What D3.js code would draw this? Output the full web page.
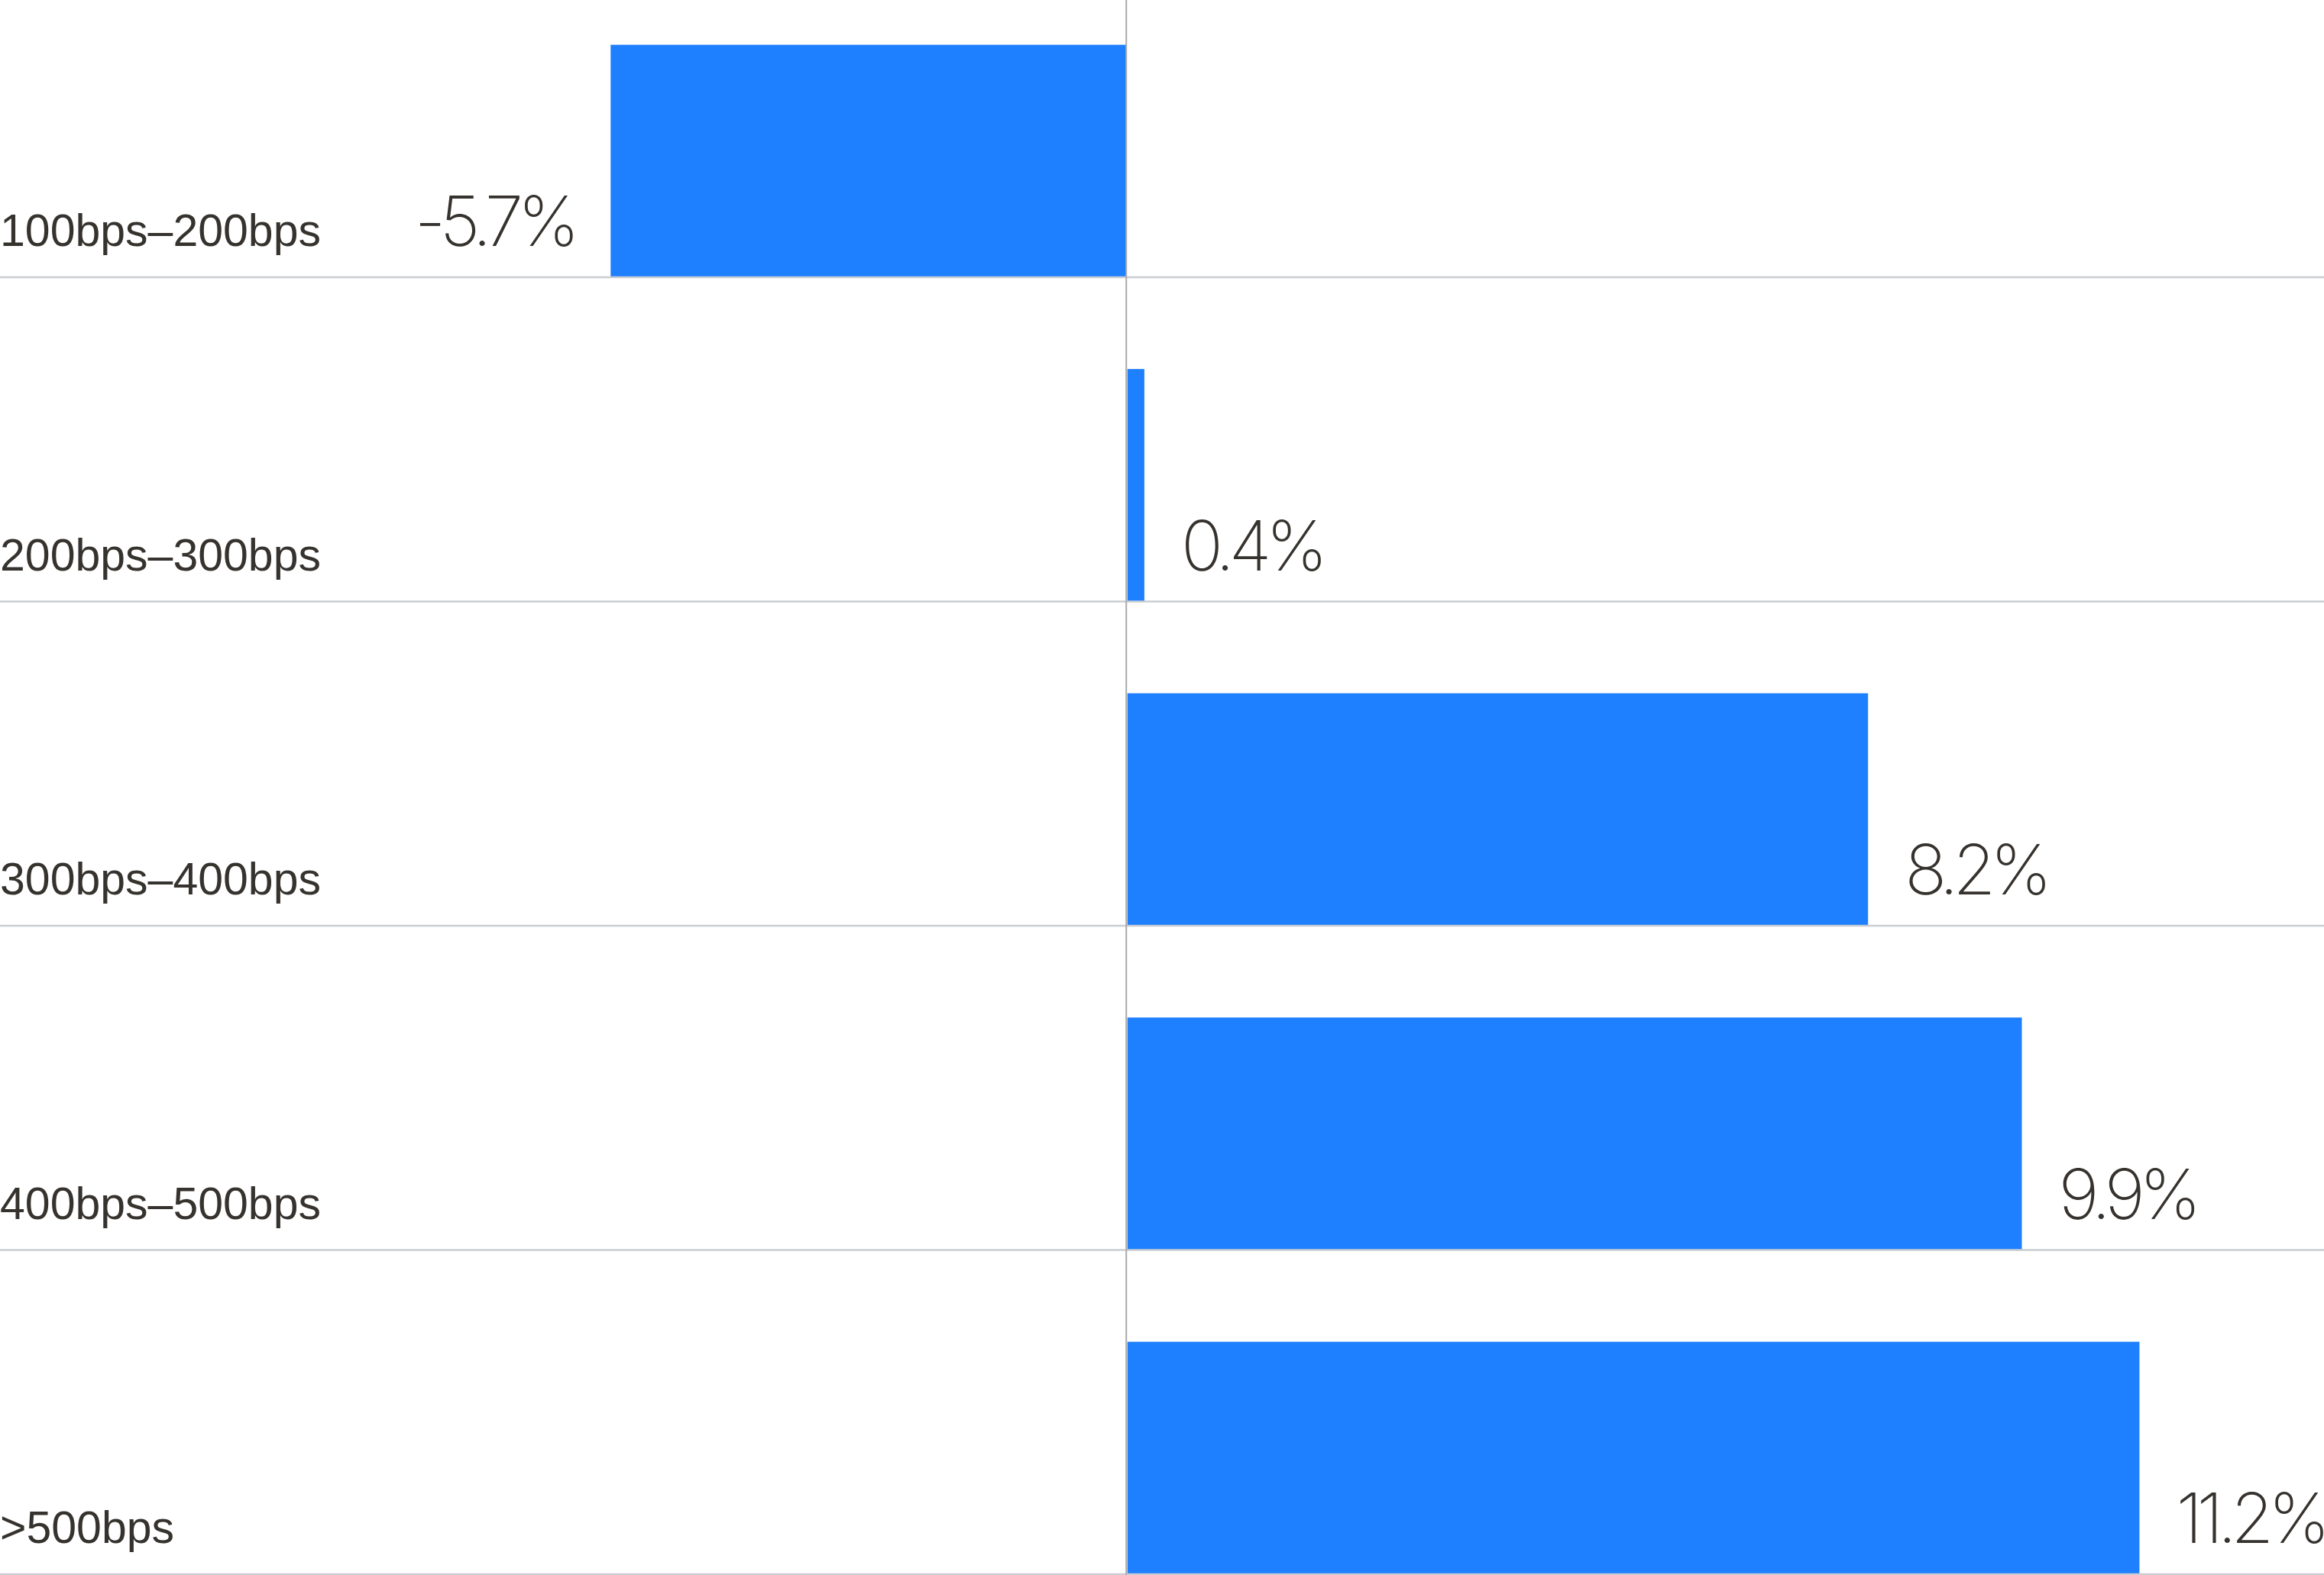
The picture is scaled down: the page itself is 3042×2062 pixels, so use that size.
<!DOCTYPE html>
<html>
<head>
<meta charset="utf-8">
<script src="https://cdn.jsdelivr.net/npm/d3@7"></script>
<style>
  html, body { margin: 0; padding: 0; background: #ffffff; }
  svg { display: block; }
</style>
</head>
<body>
<script>
// ---- data ----
const categories = ["100bps–200bps", "200bps–300bps", "300bps–400bps", "400bps–500bps", ">500bps"];
const barValues = [-5.7, 0.2, 8.2, 9.9, 11.2];
const valueLabels = ["-5.7%", "0.4%", "8.2%", "9.9%", "11.2%"];

// ---- layout ----
const W = 3042, H = 2062;
const svg = d3.select("body").append("svg").attr("width", W).attr("height", H);

const x = d3.scaleLinear().domain([-12.45, 13.24]).range([0, W]);
const y = d3.scaleBand().domain(categories).range([-61.5, 2061]).paddingInner(0).paddingOuter(0);
const bw = y.bandwidth();
const barTop = 0.283; // fraction of band left empty above bar

const rows = categories.map((c, i) => ({ cat: c, v: barValues[i], label: valueLabels[i] }));

// bars
svg.append("g").selectAll("rect").data(rows).join("rect")
  .attr("x", d => d.v < 0 ? x(d.v) : x(0) + 1.5)
  .attr("width", d => d.v < 0 ? x(0) - x(d.v) : x(d.v) - x(0) - 1.5)
  .attr("y", d => y(d.cat) + bw * barTop)
  .attr("height", d => bw * (1 - barTop))
  .attr("fill", "#1f80ff");

// horizontal gridlines at band bottoms
svg.append("g").selectAll("line").data(rows).join("line")
  .attr("x1", 0).attr("x2", W)
  .attr("y1", d => y(d.cat) + bw).attr("y2", d => y(d.cat) + bw)
  .attr("stroke", "#c9ccd1").attr("stroke-width", 2.5);

// zero line
svg.append("line")
  .attr("x1", x(0)).attr("x2", x(0)).attr("y1", 0).attr("y2", H)
  .attr("stroke", "#a9a9a9").attr("stroke-width", 2);

// category labels
svg.append("g").selectAll("text").data(rows).join("text")
  .attr("x", 0)
  .attr("y", d => y(d.cat) + bw - 41)
  .attr("font-family", "'Liberation Sans', Arial, sans-serif")
  .attr("font-size", 59)
  .attr("fill", "#36322e")
  .text(d => d.cat);

// value labels
svg.append("g").selectAll("text").data(rows).join("text")
  .attr("x", d => d.v < 0 ? x(d.v) - 48 : x(d.v) + 48)
  .attr("y", d => y(d.cat) + bw - 41)
  .attr("text-anchor", d => d.v < 0 ? "end" : "start")
  .attr("font-family", "Inter, 'Noto Sans', sans-serif")
  .attr("font-weight", 200)
  .attr("font-size", 91)
  .attr("letter-spacing", "-7.5px")
  .attr("fill", "#36322e")
  .text(d => d.label);
</script>
</body>
</html>
